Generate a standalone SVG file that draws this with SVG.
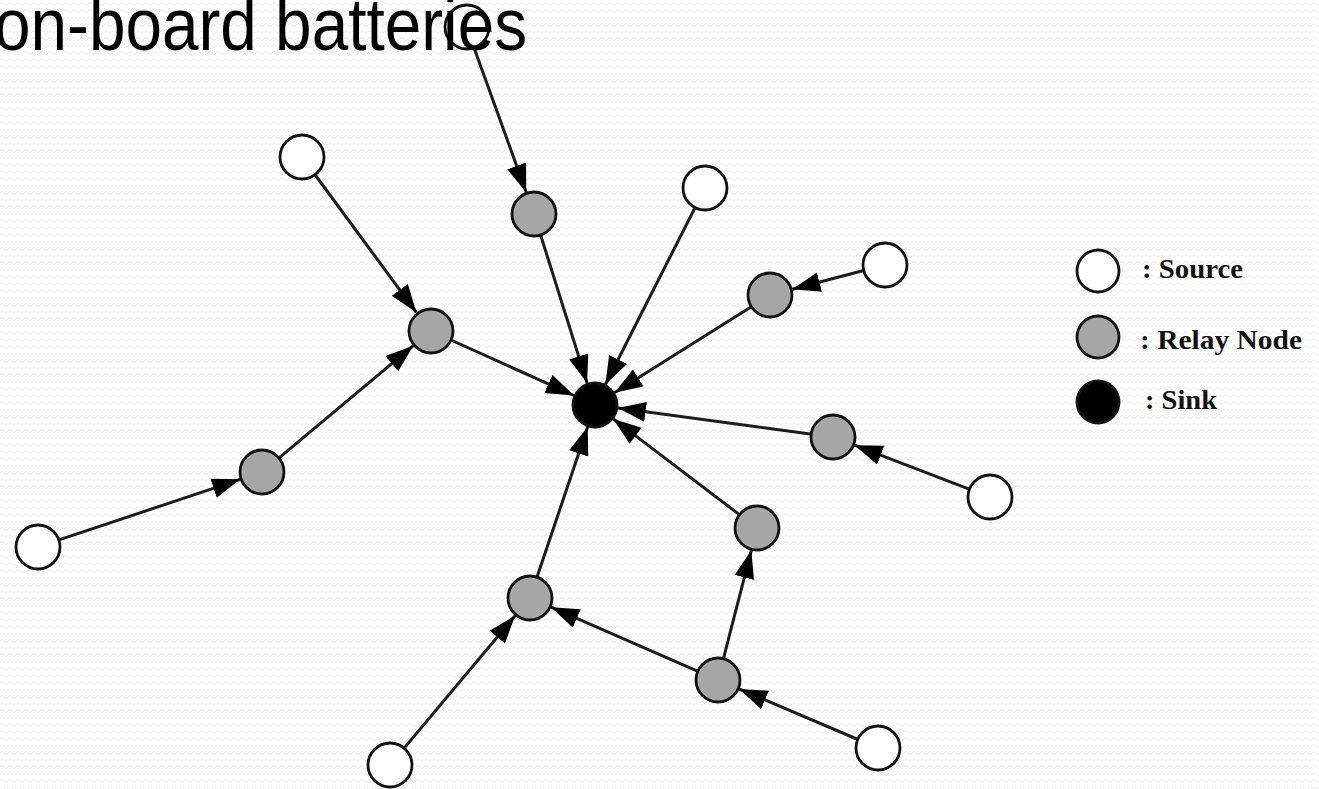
<svg xmlns="http://www.w3.org/2000/svg" width="1319" height="789" viewBox="0 0 1319 789">
  <defs>
    <!-- faint wavy paper texture -->
    <pattern id="wave" width="8" height="7" patternUnits="userSpaceOnUse">
      <path d="M0,4 Q2,1 4,4 T8,4" fill="none" stroke="#ededed" stroke-width="1"/>
    </pattern>
    <marker id="arrow" markerUnits="userSpaceOnUse" markerWidth="30" markerHeight="22" refX="28" refY="10" orient="auto">
      <path d="M0,0 L28,10 L0,20 z" fill="#000"/>
    </marker>
    <style>
      .title { font-family: "Liberation Sans", Arial, sans-serif; font-size: 74px; fill: #000; }
      .edge { stroke: #1c1c1c; stroke-width: 3; fill: none; marker-end: url(#arrow); }
      .node { stroke: #111; stroke-width: 2.8; }
      .source { fill: #fff; }
      .relay { fill: #a6a6a6; }
      .sink { fill: #000; }
      .legend { font-family: "Liberation Serif", "Times New Roman", serif; font-weight: bold; font-size: 28px; fill: #111; }
    </style>
  </defs>

  <rect width="1319" height="789" fill="#fff"/>
  <rect width="1319" height="789" fill="url(#wave)"/>

  <g id="connectors">
    <line class="edge" x1="474.4" y1="48.7" x2="526.2" y2="192.3"/>
    <line class="edge" x1="315.6" y1="175.5" x2="416.4" y2="312.5"/>
    <line class="edge" x1="540.9" y1="235.9" x2="587.1" y2="383.1"/>
    <line class="edge" x1="694.6" y1="208.5" x2="605.4" y2="384.5"/>
    <line class="edge" x1="862.7" y1="270.8" x2="792.3" y2="289.2"/>
    <line class="edge" x1="750.5" y1="307.2" x2="614.5" y2="392.8"/>
    <line class="edge" x1="452.0" y1="340.5" x2="574.0" y2="395.5"/>
    <line class="edge" x1="279.7" y1="457.3" x2="413.3" y2="345.7"/>
    <line class="edge" x1="59.8" y1="539.7" x2="240.2" y2="479.3"/>
    <line class="edge" x1="968.5" y1="488.8" x2="854.5" y2="445.2"/>
    <line class="edge" x1="810.2" y1="433.9" x2="617.8" y2="408.1"/>
    <line class="edge" x1="738.7" y1="514.1" x2="613.3" y2="418.9"/>
    <line class="edge" x1="723.7" y1="657.7" x2="751.3" y2="550.3"/>
    <line class="edge" x1="856.8" y1="739.0" x2="739.2" y2="689.0"/>
    <line class="edge" x1="696.9" y1="670.8" x2="551.1" y2="607.2"/>
    <line class="edge" x1="404.8" y1="747.4" x2="515.2" y2="615.6"/>
    <line class="edge" x1="537.3" y1="576.2" x2="587.7" y2="426.8"/>
  </g>

  <!-- sources -->
  <g id="source-1"><circle class="node source" cx="467" cy="27" r="22"/></g>
  <g id="source-2"><circle class="node source" cx="302" cy="157" r="22"/></g>
  <g id="source-3"><circle class="node source" cx="705" cy="188" r="22"/></g>
  <g id="source-4"><circle class="node source" cx="885" cy="265" r="22"/></g>
  <g id="source-5"><circle class="node source" cx="990" cy="497" r="22"/></g>
  <g id="source-6"><circle class="node source" cx="38" cy="547" r="22"/></g>
  <g id="source-7"><circle class="node source" cx="390" cy="765" r="22"/></g>
  <g id="source-8"><circle class="node source" cx="878" cy="748" r="22"/></g>

  <!-- relay nodes -->
  <g id="relay-1"><circle class="node relay" cx="534" cy="214" r="22"/></g>
  <g id="relay-2"><circle class="node relay" cx="431" cy="331" r="22"/></g>
  <g id="relay-3"><circle class="node relay" cx="770" cy="295" r="22"/></g>
  <g id="relay-4"><circle class="node relay" cx="833" cy="437" r="22"/></g>
  <g id="relay-5"><circle class="node relay" cx="262" cy="472" r="22"/></g>
  <g id="relay-6"><circle class="node relay" cx="757" cy="528" r="22"/></g>
  <g id="relay-7"><circle class="node relay" cx="530" cy="598" r="22"/></g>
  <g id="relay-8"><circle class="node relay" cx="718" cy="680" r="22"/></g>

  <!-- sink -->
  <g id="sink"><circle class="node sink" cx="595" cy="405" r="22"/></g>

  <!-- legend -->
  <g id="legend">
    <g id="legend-source">
      <circle class="node source" cx="1098" cy="271" r="21"/>
      <text class="legend" x="1142" y="278" textLength="101" lengthAdjust="spacingAndGlyphs">: Source</text>
    </g>
    <g id="legend-relay">
      <circle class="node relay" cx="1098" cy="337" r="21"/>
      <text class="legend" x="1140" y="349" textLength="162" lengthAdjust="spacingAndGlyphs">: Relay Node</text>
    </g>
    <g id="legend-sink">
      <circle class="node sink" cx="1098" cy="402" r="21"/>
      <text class="legend" x="1145" y="409" textLength="72" lengthAdjust="spacingAndGlyphs">: Sink</text>
    </g>
  </g>

  <!-- heading, partly above the top edge -->
  <text class="title" x="-6" y="50" textLength="533" lengthAdjust="spacingAndGlyphs">on-board batteries</text>
</svg>
